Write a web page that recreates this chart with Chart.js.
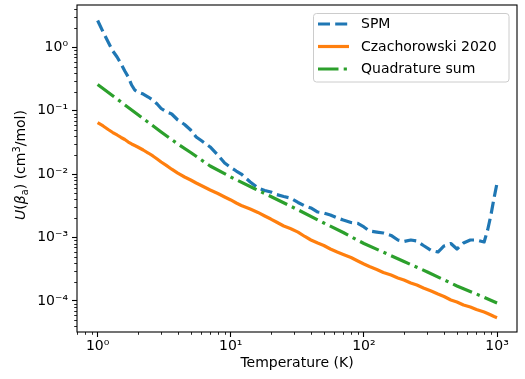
<!DOCTYPE html>
<html><head><meta charset="utf-8">
<script src="https://cdn.jsdelivr.net/npm/chart.js@4"></script>
<style>html,body{margin:0;padding:0;background:#fff}#wrap{width:525px;height:379px;position:relative}</style>
</head><body><div id="wrap"><canvas id="c" width="525" height="379"></canvas></div>
<script>
// ---- data ----
const temperatures = [1, 1.1, 1.2, 1.3, 1.4, 1.5, 1.6, 1.7, 1.8, 1.9, 2, 2.2, 2.4, 2.6, 2.8, 3, 3.3, 3.6, 4, 4.5, 5, 5.5, 6, 7, 8, 9, 10, 11, 12, 14, 16, 18, 20, 22, 25, 28, 32, 36, 40, 45, 50, 56, 63, 70, 80, 90, 100, 110, 125, 140, 160, 180, 200, 225, 250, 280, 320, 360, 400, 450, 500, 560, 630, 700, 800, 850, 900, 950, 1000];
const spm = [2.668, 1.757, 1.221, 0.881, 0.708, 0.549, 0.4256, 0.3422, 0.2559, 0.2134, 0.1984, 0.1845, 0.1654, 0.1483, 0.1282, 0.1089, 0.0959, 0.0892, 0.0717, 0.0609, 0.0498, 0.0387, 0.0340, 0.0269, 0.0201, 0.01502, 0.01276, 0.01123, 0.01007, 0.00753, 0.00606, 0.00553, 0.00524, 0.00478, 0.00445, 0.00421, 0.00358, 0.00315, 0.00293, 0.00253, 0.00244, 0.00227, 0.00204, 0.00189, 0.00173, 0.00167, 0.00147, 0.00127, 0.00122, 0.00118, 0.00108, 0.000915, 0.000866, 0.000915, 0.000882, 0.000749, 0.000625, 0.000591, 0.000736, 0.000805, 0.000660, 0.000820, 0.000915, 0.000915, 0.000851, 0.001316, 0.00227, 0.00421, 0.00726];
const czachorowski = [0.0650, 0.0577, 0.0508, 0.0455, 0.0416, 0.0380, 0.0353, 0.0322, 0.0300, 0.0284, 0.0269, 0.0241, 0.0216, 0.0194, 0.01738, 0.01558, 0.01362, 0.01199, 0.01037, 0.00903, 0.00810, 0.00726, 0.00663, 0.00563, 0.00496, 0.00437, 0.00392, 0.00351, 0.00321, 0.00282, 0.00249, 0.00219, 0.00196, 0.00176, 0.00152, 0.00139, 0.00122, 0.00104, 0.000915, 0.000820, 0.000749, 0.000660, 0.000591, 0.000540, 0.000484, 0.000427, 0.000382, 0.000349, 0.000313, 0.000281, 0.000256, 0.000230, 0.000214, 0.000192, 0.000178, 0.000160, 0.0001434, 0.0001285, 0.0001173, 0.0001033, 0.0000961, 0.0000862, 0.0000801, 0.0000732, 0.0000668, 0.0000633, 0.0000599, 0.0000567, 0.0000543];
const quadTemperatures = [1, 1.5, 2, 3, 4, 5, 7, 10, 15, 20, 30, 50, 70, 100, 150, 200, 300, 500, 700, 1000];
const quadratureSum = [0.2606, 0.1379, 0.0876, 0.0464, 0.0300, 0.0220, 0.01347, 0.00903, 0.00595, 0.00445, 0.00293, 0.00170, 0.00120, 0.000805, 0.000550, 0.000419, 0.000286, 0.000172, 0.0001285, 0.0000927];
const seriesLabels = ['SPM', 'Czachorowski 2020', 'Quadrature sum'];
const xTickValues = [1, 10, 100, 1000];
const yTickValues = [1e-4, 1e-3, 1e-2, 1e-1, 1];
const xLabel = 'Temperature (K)';

// ---- helpers ----
const SUP = {'-':'\u207B','0':'\u2070','1':'\u00B9','2':'\u00B2','3':'\u00B3','4':'\u2074','5':'\u2075'};
function powLabel(v) {
  const e = String(Math.round(Math.log10(v)));
  return '10' + e.split('').map(c => SUP[c]).join('');
}
function pairs(xs, ys) { return xs.map((x, i) => ({x: x, y: ys[i]})); }

const FONT = 'DejaVu Sans';
Chart.defaults.font.family = FONT;
Chart.defaults.font.size = 14;
Chart.defaults.color = '#000';

const frameAndExtras = {
  id: 'frameAndExtras',
  afterDraw(chart) {
    const ctx = chart.ctx;
    const a = chart.chartArea;
    const xs = chart.scales.x, ys = chart.scales.y;
    ctx.save();
    // minor ticks
    ctx.strokeStyle = '#000';
    ctx.lineWidth = 0.85;
    ctx.beginPath();
    for (let e = -6; e <= 4; e++) {
      for (let m = 2; m <= 9; m++) {
        const v = m * Math.pow(10, e);
        if (v >= xs.min && v <= xs.max) {
          const px = Math.round(xs.getPixelForValue(v)) + 0.5;
          ctx.moveTo(px, a.bottom); ctx.lineTo(px, a.bottom + 2.8);
        }
        if (v >= ys.min && v <= ys.max) {
          const py = Math.round(ys.getPixelForValue(v)) + 0.5;
          ctx.moveTo(a.left, py); ctx.lineTo(a.left - 2.8, py);
        }
      }
    }
    ctx.stroke();
    // frame (spines)
    ctx.lineWidth = 1.1;
    ctx.strokeRect(a.left, a.top, a.right - a.left, a.bottom - a.top);

    // legend
    const lx = 313.5, ly = 13.5, lw = 195.5, lh = 68.5, r = 3;
    ctx.beginPath();
    ctx.moveTo(lx + r, ly);
    ctx.lineTo(lx + lw - r, ly); ctx.quadraticCurveTo(lx + lw, ly, lx + lw, ly + r);
    ctx.lineTo(lx + lw, ly + lh - r); ctx.quadraticCurveTo(lx + lw, ly + lh, lx + lw - r, ly + lh);
    ctx.lineTo(lx + r, ly + lh); ctx.quadraticCurveTo(lx, ly + lh, lx, ly + lh - r);
    ctx.lineTo(lx, ly + r); ctx.quadraticCurveTo(lx, ly, lx + r, ly);
    ctx.closePath();
    ctx.fillStyle = 'rgba(255,255,255,0.8)';
    ctx.fill();
    ctx.strokeStyle = '#cccccc';
    ctx.lineWidth = 1;
    ctx.stroke();
    chart.data.datasets.forEach((ds, i) => {
      const y = 24 + i * 22.5;
      ctx.save();
      ctx.strokeStyle = ds.borderColor;
      ctx.lineWidth = ds.borderWidth;
      ctx.setLineDash(ds.borderDash || []);
      ctx.lineCap = 'butt';
      ctx.beginPath(); ctx.moveTo(318, y); ctx.lineTo(349, y); ctx.stroke();
      ctx.restore();
      ctx.fillStyle = '#000';
      ctx.font = '14px "' + FONT + '"';
      ctx.textBaseline = 'middle';
      ctx.textAlign = 'left';
      ctx.fillText(ds.label, 361, y + 0.5);
    });

    // y-axis title: U(β_a) (cm^3/mol)
    const segs = [
      {t: 'U', f: 'italic 14px "' + FONT + '"', dy: 0},
      {t: '(', f: '14px "' + FONT + '"', dy: 0},
      {t: '\u03B2', f: 'italic 14px "' + FONT + '"', dy: 0},
      {t: 'a', f: '9.8px "' + FONT + '"', dy: 3},
      {t: ') (cm', f: '14px "' + FONT + '"', dy: 0},
      {t: '3', f: '9.8px "' + FONT + '"', dy: -5.5},
      {t: '/mol)', f: '14px "' + FONT + '"', dy: 0}
    ];
    let total = 0;
    segs.forEach(s => { ctx.font = s.f; s.w = ctx.measureText(s.t).width; total += s.w; });
    ctx.translate(25, 165);
    ctx.rotate(-Math.PI / 2);
    ctx.fillStyle = '#000';
    ctx.textBaseline = 'alphabetic';
    ctx.textAlign = 'left';
    let cx = -total / 2;
    segs.forEach(s => { ctx.font = s.f; ctx.fillText(s.t, cx, s.dy); cx += s.w; });
    ctx.restore();
  }
};

new Chart(document.getElementById('c'), {
  type: 'line',
  data: {
    datasets: [
      {label: seriesLabels[0], data: pairs(temperatures, spm), borderColor: '#1f77b4', borderWidth: 3.2, borderDash: [12, 5.2], order: 3},
      {label: seriesLabels[1], data: pairs(temperatures, czachorowski), borderColor: '#ff7f0e', borderWidth: 3.2, order: 2},
      {label: seriesLabels[2], data: pairs(quadTemperatures, quadratureSum), borderColor: '#2ca02c', borderWidth: 3.2, borderDash: [20.5, 5.2, 3.2, 5.2], order: 1}
    ]
  },
  options: {
    responsive: false,
    animation: false,
    devicePixelRatio: 1,
    parsing: true,
    elements: {point: {radius: 0, hoverRadius: 0}, line: {tension: 0, fill: false, borderCapStyle: 'butt', borderJoinStyle: 'round'}},
    layout: {padding: {left: 0, right: 8, top: 5, bottom: 0}},
    plugins: {legend: {display: false}, tooltip: {enabled: false}},
    scales: {
      x: {
        type: 'logarithmic',
        min: Math.pow(10, -0.15), max: Math.pow(10, 3.15),
        afterBuildTicks: (s) => { s.ticks = xTickValues.map(v => ({value: v})); },
        afterFit: (s) => { s.height = 47; s.paddingLeft = 0; s.paddingRight = 0; s.paddingTop = 0; s.paddingBottom = 0; },
        ticks: {callback: (v) => powLabel(v), autoSkip: false, maxRotation: 0, minRotation: 0, padding: 1, font: {size: 14}},
        grid: {drawOnChartArea: false, drawTicks: true, tickLength: 5, tickWidth: 1.1, tickColor: '#000'},
        border: {display: false},
        title: {display: true, text: xLabel, font: {size: 14}, padding: {top: 0, bottom: 7}}
      },
      y: {
        type: 'logarithmic',
        min: Math.pow(10, -4.491), max: Math.pow(10, 0.671),
        afterBuildTicks: (s) => { s.ticks = yTickValues.map(v => ({value: v})); },
        afterFit: (s) => { s.width = 77; s.paddingLeft = 0; s.paddingRight = 0; s.paddingTop = 0; s.paddingBottom = 0; },
        ticks: {callback: (v) => powLabel(v), autoSkip: false, padding: 4, font: {size: 14}},
        grid: {drawOnChartArea: false, drawTicks: true, tickLength: 5, tickWidth: 1.1, tickColor: '#000'},
        border: {display: false}
      }
    }
  },
  plugins: [frameAndExtras]
});
</script></body></html>
